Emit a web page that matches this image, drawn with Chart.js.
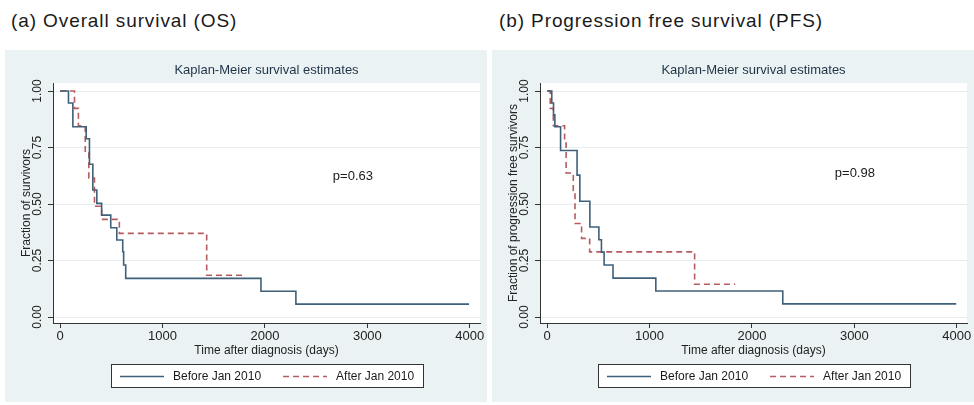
<!DOCTYPE html>
<html><head><meta charset="utf-8">
<script src="https://cdn.jsdelivr.net/npm/chart.js@4/dist/chart.umd.min.js"></script>
<style>
html,body{margin:0;padding:0;background:#fff;width:974px;height:405px;overflow:hidden;font-family:"Liberation Sans",Arial,sans-serif;}
.ptitle{position:absolute;top:10px;font-size:19px;line-height:22px;color:#1a1a1a;letter-spacing:0.9px;white-space:nowrap;}
.panel{position:absolute;top:50px;width:482px;height:352px;background:#eaf2f3;}
canvas{display:block;}
</style></head>
<body>
<div class="ptitle" style="left:11px">(a) Overall survival (OS)</div>
<div class="ptitle" style="left:499px">(b) Progression free survival (PFS)</div>
<div class="panel" style="left:5px"><canvas id="c1" width="482" height="352"></canvas></div>
<div class="panel" style="left:492px"><canvas id="c2" width="482" height="352"></canvas></div>
<script>
// ---- data ----
const osBeforeDays  = [0, 81, 124, 254, 286, 319, 358, 405, 494, 553, 611, 620, 640, 1961, 2302, 3993];
const osBeforeSurv  = [1.00, 0.947, 0.842, 0.789, 0.676, 0.562, 0.503, 0.451, 0.395, 0.341, 0.289, 0.230, 0.171, 0.114, 0.057, 0.057];
const osAfterDays   = [0, 140, 178, 245, 280, 335, 405, 578, 1431, 1805];
const osAfterSurv   = [1.00, 0.923, 0.846, 0.730, 0.615, 0.490, 0.432, 0.370, 0.185, 0.185];
const pfsBeforeDays = [0, 45, 62, 75, 131, 292, 319, 417, 505, 530, 556, 643, 1061, 2301, 3995];
const pfsBeforeSurv = [1.00, 0.947, 0.895, 0.842, 0.737, 0.628, 0.512, 0.398, 0.342, 0.287, 0.230, 0.172, 0.115, 0.058, 0.058];
const pfsAfterDays  = [0, 30, 60, 170, 185, 255, 272, 336, 415, 1440, 1836];
const pfsAfterSurv  = [1.00, 0.923, 0.846, 0.770, 0.637, 0.560, 0.414, 0.348, 0.288, 0.145, 0.145];
const seriesLabels  = ['Before Jan 2010', 'After Jan 2010'];
const xTickValues   = [0, 1000, 2000, 3000, 4000];
const yTickValues   = [0, 0.25, 0.5, 0.75, 1];
const chartTitle    = 'Kaplan-Meier survival estimates';
const xAxisTitle    = 'Time after diagnosis (days)';
const yAxisTitles   = ['Fraction of survivors', 'Fraction of progression free survivors'];
const pValueTexts   = ['p=0.63', 'p=0.98'];
const pValueDays    = [2663, 2809];
const pValueFracs   = [0.62, 0.635];

const FONT = '"Liberation Sans", Arial, sans-serif';

const plotBg = {
  id: 'plotBg',
  beforeDraw(chart) {
    const {ctx, chartArea: a} = chart;
    ctx.save(); ctx.fillStyle = '#ffffff';
    ctx.fillRect(a.left, a.top, a.right - a.left, a.bottom - a.top);
    ctx.restore();
  }
};
const pLabel = {
  id: 'pLabel',
  afterDatasetsDraw(chart, args, opts) {
    const ctx = chart.ctx;
    ctx.save();
    ctx.font = '13px ' + FONT; ctx.fillStyle = '#1a1a1a';
    ctx.textAlign = 'left'; ctx.textBaseline = 'middle';
    ctx.fillText(opts.text, chart.scales.x.getPixelForValue(opts.x), chart.scales.y.getPixelForValue(opts.y));
    ctx.restore();
  }
};
const boxLegend = {
  id: 'boxLegend',
  afterDraw(chart, args, opts) {
    const ctx = chart.ctx, a = chart.chartArea, ds = chart.data.datasets;
    ctx.save();
    ctx.font = '12px ' + FONT;
    const lineW = 44, gapT = 9, gapI = 22, padX = 9, boxH = 23;
    const widths = ds.map(d => ctx.measureText(d.label).width);
    const content = widths.reduce((s, w) => s + lineW + gapT + w, 0) + gapI * (ds.length - 1);
    const boxW = Math.round(content + 2 * padX);
    const left = Math.round((a.left + a.right) / 2 - boxW / 2);
    const top = opts.top;
    ctx.fillStyle = '#ffffff'; ctx.fillRect(left, top, boxW, boxH);
    ctx.strokeStyle = '#333'; ctx.lineWidth = 1;
    ctx.strokeRect(left + 0.5, top + 0.5, boxW, boxH);
    let x = left + padX; const ym = top + boxH / 2 + 1;
    ds.forEach((d, i) => {
      ctx.beginPath(); ctx.strokeStyle = d.borderColor; ctx.lineWidth = d.borderWidth;
      ctx.setLineDash(d.borderDash || []);
      ctx.moveTo(x, ym); ctx.lineTo(x + lineW, ym); ctx.stroke(); ctx.setLineDash([]);
      x += lineW + gapT;
      ctx.fillStyle = '#1a1a1a'; ctx.textAlign = 'left'; ctx.textBaseline = 'middle';
      ctx.fillText(d.label, x, ym);
      x += widths[i] + gapI;
    });
    ctx.restore();
  }
};

function makeChart(id, bDays, bSurv, aDays, aSurv, yTitle, pText, pX, pY) {
  const pts = (d, s) => d.map((t, i) => ({x: t, y: s[i]}));
  return new Chart(document.getElementById(id), {
    type: 'line',
    data: {datasets: [
      {label: seriesLabels[0], data: pts(bDays, bSurv), borderColor: '#3f6079', borderWidth: 1.6, stepped: true, pointRadius: 0, fill: false},
      {label: seriesLabels[1], data: pts(aDays, aSurv), borderColor: '#b55c60', borderWidth: 1.6, borderDash: [6, 4], stepped: true, pointRadius: 0, fill: false}
    ]},
    options: {
      responsive: false, animation: false, devicePixelRatio: 1,
      layout: {padding: {left: 0, right: 7, top: 0, bottom: 44}},
      plugins: {
        legend: {display: false}, tooltip: {enabled: false},
        title: {display: true, text: chartTitle, fullSize: false, color: '#1f3347',
                font: {family: FONT, size: 13, weight: 'normal'}, padding: {top: 12.2, bottom: 5.2}},
        pLabel: {text: pText, x: pX, y: pY},
        boxLegend: {top: 314}
      },
      scales: {
        x: {
          type: 'linear', min: -70, max: 4100,
          afterBuildTicks: s => { s.ticks = xTickValues.map(v => ({value: v})); },
          afterFit: s => { s.height = 35; },
          ticks: {autoSkip: false, maxRotation: 0, font: {family: FONT, size: 13}, color: '#222', padding: 1, callback: v => String(v)},
          grid: {drawOnChartArea: false, drawTicks: true, tickLength: 5, tickColor: '#333'},
          border: {display: true, color: '#333', width: 1},
          title: {display: true, text: xAxisTitle, font: {family: FONT, size: 12}, color: '#222', padding: {top: 0, bottom: 0}}
        },
        y: {
          type: 'linear', min: -0.0265, max: 1.0354,
          afterBuildTicks: s => { s.ticks = yTickValues.map(v => ({value: v})); },
          afterFit: s => { s.width = 48; },
          ticks: {autoSkip: false, minRotation: 90, maxRotation: 90, crossAlign: 'center', padding: -1.7,
                  font: {family: FONT, size: 12}, color: '#222', callback: v => Number(v).toFixed(2)},
          grid: {color: '#e7eef1', lineWidth: 1, drawTicks: true, tickLength: 5, tickColor: '#333'},
          border: {display: true, color: '#333', width: 1},
          title: {display: true, text: yTitle, font: {family: FONT, size: 12}, color: '#222', padding: {top: 14.8, bottom: 0}}
        }
      }
    },
    plugins: [plotBg, pLabel, boxLegend]
  });
}

makeChart('c1', osBeforeDays, osBeforeSurv, osAfterDays, osAfterSurv, yAxisTitles[0], pValueTexts[0], pValueDays[0], pValueFracs[0]);
makeChart('c2', pfsBeforeDays, pfsBeforeSurv, pfsAfterDays, pfsAfterSurv, yAxisTitles[1], pValueTexts[1], pValueDays[1], pValueFracs[1]);
</script>
</body></html>
